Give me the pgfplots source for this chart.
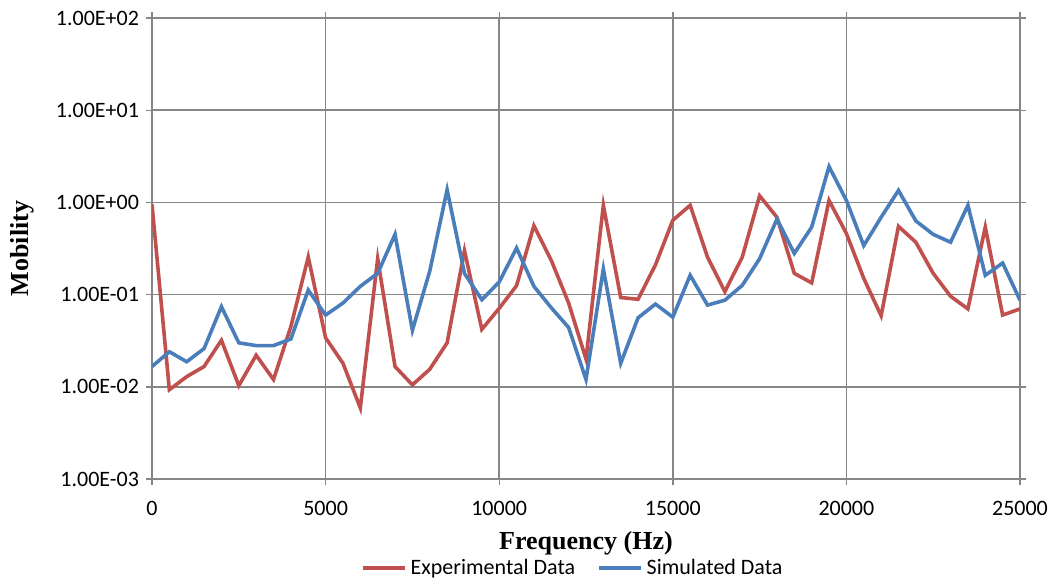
\documentclass[border=0pt]{standalone}
\usepackage{fontspec}
\setmainfont{Carlito}
\newfontfamily\titlefont{Liberation Serif}
\usepackage{pgfplots}
\pgfplotsset{compat=1.18}
\definecolor{exred}{RGB}{192,80,77}
\definecolor{simblue}{RGB}{74,126,187}
\definecolor{gridgray}{RGB}{134,134,134}

\pgfplotstableread{
f m
0 0.95
500 0.0093
1000 0.0129
1500 0.0166
2000 0.032
2500 0.0103
3000 0.022
3500 0.012
4000 0.045
4500 0.256
5000 0.034
5500 0.018
6000 0.0059
6500 0.245
7000 0.0166
7500 0.0105
8000 0.0155
8500 0.030
9000 0.30
9500 0.042
10000 0.071
10500 0.125
11000 0.56
11500 0.235
12000 0.081
12500 0.020
13000 0.93
13500 0.093
14000 0.089
14500 0.21
15000 0.64
15500 0.93
16000 0.255
16500 0.108
17000 0.255
17500 1.18
18000 0.69
18500 0.17
19000 0.134
19500 1.05
20000 0.46
20500 0.15
21000 0.059
21500 0.55
22000 0.37
22500 0.17
23000 0.096
23500 0.070
24000 0.54
24500 0.060
25000 0.070
}\experimental

\pgfplotstableread{
f m
0 0.0166
500 0.024
1000 0.0187
1500 0.026
2000 0.074
2500 0.030
3000 0.028
3500 0.028
4000 0.033
4500 0.112
5000 0.060
5500 0.081
6000 0.123
6500 0.17
7000 0.45
7500 0.041
8000 0.18
8500 1.37
9000 0.17
9500 0.088
10000 0.137
10500 0.32
11000 0.123
11500 0.072
12000 0.044
12500 0.012
13000 0.19
13500 0.018
14000 0.056
14500 0.079
15000 0.057
15500 0.162
16000 0.077
16500 0.087
17000 0.126
17500 0.245
18000 0.66
18500 0.28
19000 0.54
19500 2.45
20000 1.05
20500 0.34
21000 0.69
21500 1.35
22000 0.63
22500 0.45
23000 0.37
23500 0.93
24000 0.162
24500 0.22
25000 0.087
}\simulated

\begin{document}
\begin{tikzpicture}
\path[use as bounding box] (-76pt,-53.5pt) rectangle (451.5pt,239.5pt);
\begin{axis}[
  scale only axis, width=434pt, height=230.5pt,
  ymode=log, xmin=0, xmax=25000, ymin=1e-3, ymax=1e2,
  xtick={0,5000,10000,15000,20000,25000},
  xticklabels={0,5000,10000,15000,20000,25000},
  scaled x ticks=false,
  ytick={1e-3,1e-2,1e-1,1,1e1,1e2},
  yticklabels={1.00E-03,1.00E-02,1.00E-01,1.00E+00,1.00E+01,1.00E+02},
  minor ytick={}, yminorticks=false,
  ticklabel style={font=\fontsize{11}{13}\selectfont, text=black},
  xticklabel style={yshift=-4.5pt},
  tick align=outside, major tick length=3pt,
  tick style={gridgray, line width=0.7pt},
  grid=major, grid style={gridgray, line width=0.75pt},
  axis line style={gridgray, line width=0.75pt},
  xlabel={\titlefont\bfseries Frequency (Hz)},
  ylabel={\titlefont\bfseries Mobility},
  label style={font=\fontsize{13}{15}\selectfont},
  xlabel style={at={(axis description cs:0.5,-0.139)}, anchor=center},
  ylabel style={at={(axis description cs:-0.15,0.5)}, anchor=center},
  legend columns=2,
  legend style={at={(axis description cs:0.486,-0.193)}, anchor=center, draw=none, fill=none,
    inner sep=0pt, font=\fontsize{11}{13}\selectfont, /tikz/every even column/.append style={column sep=9pt}},
  legend image code/.code={\draw[#1, line width=1.7pt] (0cm,0cm) -- (0.74cm,0cm);},
]
\addplot[exred, line width=1.8pt, sharp plot, no marks] table[x=f, y=m] {\experimental};
\addlegendentry{Experimental Data}
\addplot[simblue, line width=1.8pt, sharp plot, no marks] table[x=f, y=m] {\simulated};
\addlegendentry{Simulated Data}
\end{axis}
\end{tikzpicture}
\end{document}
